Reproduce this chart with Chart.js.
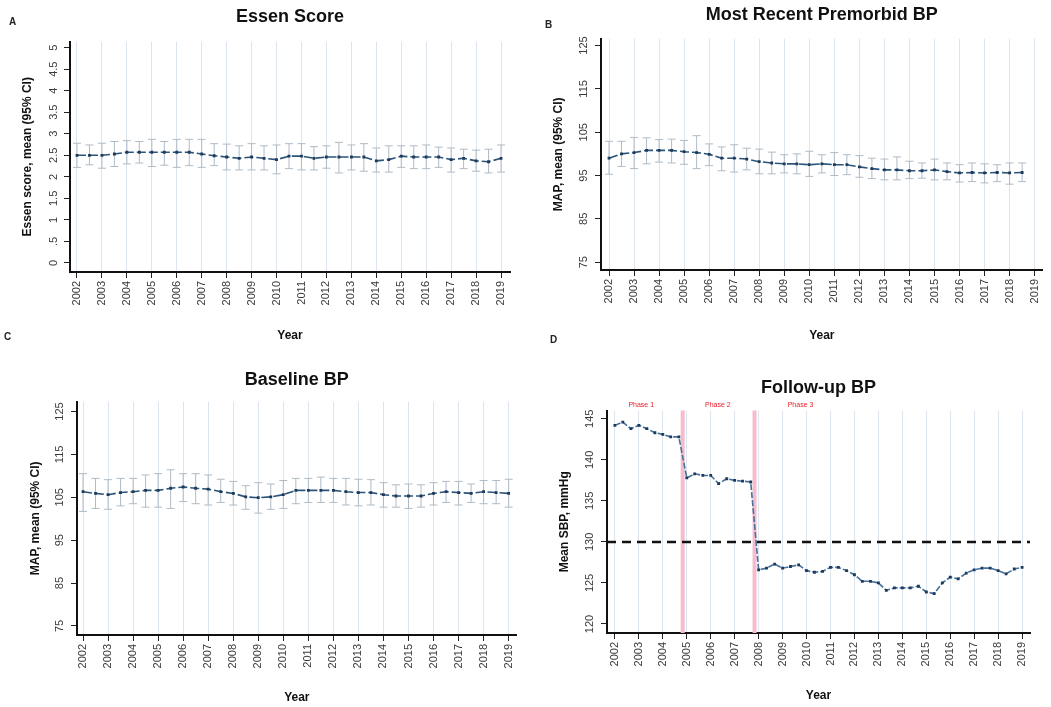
<!DOCTYPE html>
<html>
<head>
<meta charset="utf-8">
<script src="https://cdn.jsdelivr.net/npm/chart.js@4.4.1/dist/chart.umd.min.js"></script>
<style>
  html, body { margin: 0; padding: 0; background: #fff; }
  #page { position: relative; width: 1051px; height: 707px; overflow: hidden; font-family: 'Liberation Sans', Arial, sans-serif; }
  .panel { position: absolute; }
  .tag { position: absolute; font-size: 10px; font-weight: bold; color: #222; }
</style>
</head>
<body>
<div id="page">
  <div class="panel" style="left:0;top:0;width:525px;height:345px"><canvas id="chartA"></canvas></div>
  <div class="panel" style="left:525px;top:0;width:526px;height:345px"><canvas id="chartB"></canvas></div>
  <div class="panel" style="left:0;top:345px;width:525px;height:362px"><canvas id="chartC"></canvas></div>
  <div class="panel" style="left:525px;top:345px;width:526px;height:362px"><canvas id="chartD"></canvas></div>
  <div class="tag" style="left:9px;top:16px">A</div>
  <div class="tag" style="left:545px;top:19px">B</div>
  <div class="tag" style="left:4px;top:331px">C</div>
  <div class="tag" style="left:550px;top:334px">D</div>
</div>
<script>
// year axis ticks, shared by all four panels
const yearTicks = [2002, 2003, 2004, 2005, 2006, 2007, 2008, 2009, 2010, 2011, 2012, 2013, 2014, 2015, 2016, 2017, 2018, 2019];

// half-year time points (panels A and C)
const halfYears = [2002, 2002.5, 2003, 2003.5, 2004, 2004.5, 2005, 2005.5, 2006, 2006.5,
  2007, 2007.5, 2008, 2008.5, 2009, 2009.5, 2010, 2010.5, 2011, 2011.5,
  2012, 2012.5, 2013, 2013.5, 2014, 2014.5, 2015, 2015.5, 2016, 2016.5,
  2017, 2017.5, 2018, 2018.5, 2019];
// panel B stops at 2018.5
const halfYearsB = halfYears.slice(0, 34);
// four-month time points (panel D)
const thirdYears = [2002, 2002.33, 2002.67, 2003, 2003.33, 2003.67, 2004, 2004.33, 2004.67,
  2005, 2005.33, 2005.67, 2006, 2006.33, 2006.67, 2007, 2007.33, 2007.67,
  2008, 2008.33, 2008.67, 2009, 2009.33, 2009.67, 2010, 2010.33, 2010.67,
  2011, 2011.33, 2011.67, 2012, 2012.33, 2012.67, 2013, 2013.33, 2013.67,
  2014, 2014.33, 2014.67, 2015, 2015.33, 2015.67, 2016, 2016.33, 2016.67,
  2017, 2017.33, 2017.67, 2018, 2018.33, 2018.67, 2019];

// A: Essen score
const essenMean = [2.50, 2.50, 2.50, 2.53, 2.57, 2.57, 2.57, 2.57, 2.57, 2.57,
  2.53, 2.49, 2.46, 2.43, 2.46, 2.43, 2.40, 2.48, 2.48, 2.43,
  2.46, 2.46, 2.46, 2.46, 2.37, 2.40, 2.48, 2.46, 2.46, 2.46,
  2.40, 2.43, 2.37, 2.35, 2.43];
const essenHi = [2.78, 2.74, 2.78, 2.82, 2.84, 2.82, 2.87, 2.82, 2.87, 2.87,
  2.87, 2.77, 2.76, 2.72, 2.77, 2.72, 2.74, 2.77, 2.77, 2.70,
  2.72, 2.80, 2.74, 2.77, 2.67, 2.72, 2.72, 2.72, 2.74, 2.69,
  2.67, 2.64, 2.62, 2.64, 2.74];
const essenLo = [2.22, 2.28, 2.20, 2.24, 2.30, 2.32, 2.24, 2.27, 2.22, 2.26,
  2.22, 2.26, 2.16, 2.16, 2.16, 2.16, 2.07, 2.19, 2.16, 2.16,
  2.20, 2.09, 2.16, 2.13, 2.11, 2.11, 2.22, 2.19, 2.19, 2.22,
  2.11, 2.19, 2.13, 2.09, 2.11];
const essenTicks = [0, 0.5, 1, 1.5, 2, 2.5, 3, 3.5, 4, 4.5, 5];

// B: most recent premorbid MAP
const premorbidMean = [99.0, 100.0, 100.3, 100.8, 100.8, 100.8, 100.5, 100.3, 99.9, 99.0,
  99.0, 98.8, 98.2, 97.9, 97.7, 97.7, 97.5, 97.7, 97.5, 97.5,
  97.0, 96.6, 96.3, 96.3, 96.1, 96.1, 96.3, 95.9, 95.6, 95.7,
  95.6, 95.7, 95.6, 95.7];
const premorbidHi = [102.9, 102.9, 103.8, 103.7, 103.3, 103.4, 103.1, 104.2, 102.3, 101.6,
  102.1, 101.3, 101.1, 100.4, 99.8, 100.0, 100.6, 99.8, 100.3, 99.8,
  99.6, 99.0, 98.8, 99.3, 98.3, 97.9, 98.8, 97.9, 97.5, 97.9,
  97.7, 97.5, 97.9, 97.9];
const premorbidLo = [95.3, 97.1, 96.6, 97.7, 98.1, 97.9, 97.6, 96.6, 97.3, 96.1,
  95.8, 96.3, 95.4, 95.4, 95.6, 95.4, 94.8, 95.6, 95.0, 95.2,
  94.6, 94.3, 94.0, 94.0, 94.3, 94.4, 94.0, 94.0, 93.5, 93.6,
  93.3, 93.6, 93.0, 93.6];
const mapTicks = [75, 85, 95, 105, 115, 125];

// C: baseline MAP
const baselineMean = [106.3, 105.9, 105.6, 106.1, 106.3, 106.6, 106.6, 107.1, 107.4, 107.1,
  106.9, 106.3, 105.9, 105.1, 104.9, 105.1, 105.6, 106.6, 106.6, 106.6,
  106.6, 106.3, 106.1, 106.1, 105.6, 105.3, 105.3, 105.3, 105.9, 106.3,
  106.1, 105.9, 106.3, 106.1, 105.9];
const baselineHi = [110.5, 109.4, 109.1, 109.4, 109.4, 110.2, 110.5, 111.4, 110.5, 110.5,
  110.2, 109.2, 108.7, 107.7, 108.4, 108.1, 108.9, 109.4, 109.4, 109.7,
  109.4, 109.4, 109.2, 109.1, 108.4, 107.9, 108.1, 107.9, 108.4, 108.7,
  108.7, 108.1, 108.9, 108.9, 109.2];
const baselineLo = [101.7, 102.4, 102.2, 103.0, 103.5, 102.7, 102.7, 102.4, 104.0, 103.5,
  103.2, 103.8, 103.2, 102.2, 101.3, 102.2, 102.4, 103.5, 103.8, 103.8,
  103.8, 103.2, 103.0, 103.2, 102.7, 102.7, 102.4, 102.7, 103.2, 103.8,
  103.2, 103.8, 103.5, 103.5, 102.7];

// D: follow-up SBP
const followUpSBP = [144.2, 144.6, 143.8, 144.2, 143.8, 143.3, 143.1, 142.8, 142.8,
  137.8, 138.3, 138.1, 138.1, 137.1, 137.7, 137.5, 137.4, 137.3,
  126.6, 126.8, 127.3, 126.8, 127.0, 127.2, 126.5, 126.3, 126.4, 126.9,
  126.9, 126.5, 126.0, 125.2, 125.2, 125.0, 124.1, 124.4, 124.4, 124.4,
  124.6, 123.9, 123.7, 125.0, 125.7, 125.5, 126.2, 126.6, 126.8, 126.8,
  126.5, 126.1, 126.7, 126.9];
const sbpTicks = [120, 125, 130, 135, 140, 145];
const phaseCuts = [2004.83, 2007.83];
const phaseNames = ['Phase 1', 'Phase 2', 'Phase 3'];
const phaseNameAt = [2003.1, 2006.3, 2009.75];
const targetSBP = 130;

Chart.defaults.font.family = "'Liberation Sans', Arial, sans-serif";

// 95% CI whiskers
const errorBars = {
  id: 'errorBars',
  beforeDatasetsDraw(chart, args, opts) {
    if (!opts.hi) return;
    const {ctx, scales: {x, y}} = chart;
    ctx.save();
    ctx.strokeStyle = '#aebbc6';
    ctx.lineWidth = 1;
    opts.xs.forEach((xv, i) => {
      const px = x.getPixelForValue(xv);
      const top = y.getPixelForValue(opts.hi[i]);
      const bot = y.getPixelForValue(opts.lo[i]);
      ctx.beginPath();
      ctx.moveTo(px, top); ctx.lineTo(px, bot);
      ctx.moveTo(px - 4, top); ctx.lineTo(px + 4, top);
      ctx.moveTo(px - 4, bot); ctx.lineTo(px + 4, bot);
      ctx.stroke();
    });
    ctx.restore();
  }
};

// phase separators, phase names and the 130 mmHg target line
const phases = {
  id: 'phases',
  beforeDatasetsDraw(chart, args, opts) {
    if (!opts.cuts) return;
    const {ctx, chartArea: a, scales: {x, y}} = chart;
    ctx.save();
    ctx.strokeStyle = '#f6bccd';
    ctx.lineWidth = 4;
    opts.cuts.forEach(c => {
      const px = x.getPixelForValue(c);
      ctx.beginPath(); ctx.moveTo(px, a.top); ctx.lineTo(px, a.bottom); ctx.stroke();
    });
    const py = y.getPixelForValue(opts.target);
    ctx.strokeStyle = '#111';
    ctx.lineWidth = 2.5;
    ctx.setLineDash([9, 6]);
    ctx.beginPath(); ctx.moveTo(a.left, py); ctx.lineTo(a.right, py); ctx.stroke();
    ctx.setLineDash([]);
    ctx.fillStyle = '#e8202a';
    ctx.font = "7px 'Liberation Sans', Arial, sans-serif";
    ctx.textAlign = 'center';
    ctx.textBaseline = 'middle';
    opts.names.forEach((n, i) => ctx.fillText(n, x.getPixelForValue(opts.at[i]), a.top - 6));
    ctx.restore();
  }
};

Chart.register(errorBars, phases);

function makePanel(id, p) {
  return new Chart(document.getElementById(id), {
    type: 'line',
    data: {
      datasets: [{
        data: p.xs.map((x, i) => ({x: x, y: p.ys[i]})),
        borderColor: p.lineColor,
        borderWidth: 1.6,
        borderDash: p.dash,
        pointStyle: 'rect',
        pointRadius: 2,
        pointBackgroundColor: '#1d3a5c',
        pointBorderColor: '#1d3a5c',
        pointBorderWidth: 0,
        tension: 0
      }]
    },
    options: {
      responsive: true,
      maintainAspectRatio: false,
      animation: false,
      layout: {padding: {left: 0, right: p.padRight, top: 0, bottom: 0}},
      plugins: {
        legend: {display: false},
        tooltip: {enabled: false},
        title: {
          display: true, text: p.title, fullSize: false, color: '#111',
          font: {size: 18, weight: 'bold'},
          padding: {top: p.titleTop, bottom: p.titleBottom}
        },
        errorBars: p.errors || {},
        phases: p.phases || {}
      },
      scales: {
        x: {
          type: 'linear', min: p.xMin, max: p.xMax,
          afterBuildTicks: s => { s.ticks = yearTicks.map(v => ({value: v})); },
          afterFit: s => { s.height = p.xHeight; },
          ticks: {minRotation: 90, maxRotation: 90, autoSkip: false, color: '#3a3a3a', font: {size: 11}, padding: 3, callback: v => String(v)},
          grid: {color: '#dde6ee', tickColor: '#222', tickLength: 6},
          border: {color: '#111', width: 2},
          title: {display: true, text: 'Year', color: '#111', font: {size: 12, weight: 'bold'}, padding: {bottom: p.xTitlePad}}
        },
        y: {
          min: p.yMin, max: p.yMax,
          afterBuildTicks: s => { s.ticks = p.yTicks.map(v => ({value: v})); },
          afterFit: s => { s.width = p.yWidth; },
          ticks: {minRotation: 90, maxRotation: 90, crossAlign: 'center', color: '#3a3a3a', font: {size: 11}, padding: 2, callback: p.yFmt || (v => String(v))},
          grid: {drawOnChartArea: false, color: '#222', tickLength: 6},
          border: {color: '#111', width: 2},
          title: {display: true, text: p.yTitle, color: '#111', font: {size: 12, weight: 'bold'}, padding: {top: p.yTitlePad}}
        }
      }
    }
  });
}

makePanel('chartA', {
  title: 'Essen Score', yTitle: 'Essen score, mean (95% CI)',
  xs: halfYears, ys: essenMean, errors: {xs: halfYears, hi: essenHi, lo: essenLo},
  lineColor: '#2a5479', dash: [9, 3],
  xMin: 2001.72, xMax: 2019.36, yMin: -0.21, yMax: 5.14, yTicks: essenTicks,
  yFmt: v => (v === 0.5 ? '.5' : String(v)),
  yWidth: 70, xHeight: 73, padRight: 15,
  titleTop: 6, titleBottom: 14, xTitlePad: 2, yTitlePad: 20
});

makePanel('chartB', {
  title: 'Most Recent Premorbid BP', yTitle: 'MAP, mean (95% CI)',
  xs: halfYearsB, ys: premorbidMean, errors: {xs: halfYearsB, hi: premorbidHi, lo: premorbidLo},
  lineColor: '#2a5479', dash: [9, 3],
  xMin: 2001.68, xMax: 2019.32, yMin: 73.2, yMax: 126.6, yTicks: mapTicks,
  yWidth: 76, xHeight: 75, padRight: 6,
  titleTop: 4, titleBottom: 13, xTitlePad: 2, yTitlePad: 26
});

makePanel('chartC', {
  title: 'Baseline BP', yTitle: 'MAP, mean (95% CI)',
  xs: halfYears, ys: baselineMean, errors: {xs: halfYears, hi: baselineHi, lo: baselineLo},
  lineColor: '#2a5479', dash: [9, 3],
  xMin: 2001.76, xMax: 2019.32, yMin: 72.9, yMax: 127.3, yTicks: mapTicks,
  yWidth: 77, xHeight: 72, padRight: 8,
  titleTop: 24, titleBottom: 11, xTitlePad: 2, yTitlePad: 28
});

makePanel('chartD', {
  title: 'Follow-up BP', yTitle: 'Mean SBP, mmHg',
  xs: thirdYears, ys: followUpSBP,
  phases: {cuts: phaseCuts, names: phaseNames, at: phaseNameAt, target: targetSBP},
  lineColor: '#44729c', dash: [6, 2],
  xMin: 2001.67, xMax: 2019.33, yMin: 118.9, yMax: 146, yTicks: sbpTicks,
  yWidth: 82, xHeight: 74, padRight: 21,
  titleTop: 32, titleBottom: 12, xTitlePad: 4, yTitlePad: 32
});
</script>
</body>
</html>
